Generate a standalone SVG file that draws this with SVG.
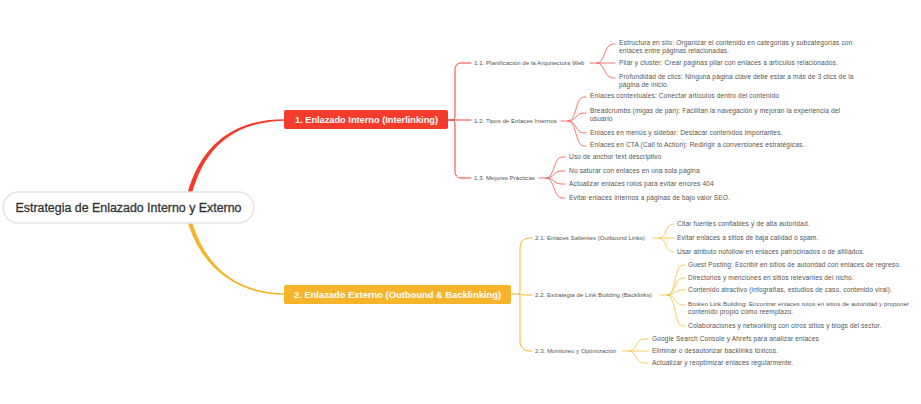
<svg xmlns="http://www.w3.org/2000/svg" width="921" height="404" viewBox="0 0 921 404">
<style>
.bg{fill:#ffffff}
.root{fill:#ffffff;stroke:#e4e4e4;stroke-width:1.5}
.rootT{font-family:"Liberation Sans",Arial,sans-serif;font-size:12.5px;fill:#333333;stroke:#333333;stroke-width:0.3;text-anchor:middle}
.n1{fill:#f43b2c}
.n2{fill:#f6b42b}
.nT{font-family:"Liberation Sans",Arial,sans-serif;font-size:9.5px;font-weight:bold;fill:#ffffff;text-anchor:middle}
.l2{font-family:"Liberation Sans",Arial,sans-serif;font-size:6.1px;letter-spacing:0.03px;fill:#555555}
.l3{font-family:"Liberation Sans",Arial,sans-serif;font-size:6.6px;letter-spacing:0.13px;fill:#555555}
.l3n{font-size:6.2px;letter-spacing:0.05px}
.cr{fill:none;stroke:#f43b2c;stroke-width:1;stroke-linecap:round}
.cy{fill:none;stroke:#f6b42b;stroke-width:1;stroke-linecap:round}
.cr2{fill:none;stroke:#f7675c;stroke-width:0.9;stroke-linecap:round}
.cy2{fill:none;stroke:#f8c451;stroke-width:0.9;stroke-linecap:round}
</style>
<rect class="bg" x="0" y="0" width="921" height="404"/>
<g id="connectors">
<path d="M187,195 C202,139 240,119 285,119.2 L285,120.8 C240,121.5 206,141 191.5,195 Z" fill="#f43b2c"/>
<path d="M187,220 C202,271 240,295 285,294.8 L285,293.2 C240,293 206,270 191.5,220 Z" fill="#f6b42b"/>
<!-- branch 1 -->
<path class="cr" d="M448,120 L471,120"/>
<path class="cr" d="M448,120 L452,120 C455,120 455,117 455,114 L455,70 C455,66 457,63 461,63 L471,63"/>
<path class="cr" d="M452,120 C455,120 455,123 455,126 L455,171 C455,175 457,178 461,178 L471,178"/>
<!-- 1.1 -->
<path class="cr2" d="M590,63 L597,63 C605,63 604,44 613,44 L615,44"/>
<path class="cr2" d="M597,63 L615,63"/>
<path class="cr2" d="M597,63 C605,63 604,78 613,78 L615,78"/>
<!-- 1.2 -->
<path class="cr2" d="M561,121 L568,121 C577,121 575,97 584,97 L586,97"/>
<path class="cr2" d="M568,121 C577,121 575,113 584,113 L586,113"/>
<path class="cr2" d="M568,121 C577,121 575,133 584,133 L586,133"/>
<path class="cr2" d="M568,121 C577,121 575,146 584,146 L586,146"/>
<!-- 1.3 -->
<path class="cr2" d="M539,178 L546,178 C555,178 553,157 562,157 L565,157"/>
<path class="cr2" d="M546,178 C555,178 553,171 562,171 L565,171"/>
<path class="cr2" d="M546,178 C555,178 553,184 562,184 L565,184"/>
<path class="cr2" d="M546,178 C555,178 553,198 562,198 L565,198"/>
<!-- branch 2 -->
<path class="cy" d="M511,294 L519,294 C520,294 520,292 520,290 L520,248 C520,242 524,238 530,238 L532,238"/>
<path class="cy" d="M519,294 C520,294 520,295 528,295 L532,295"/>
<path class="cy" d="M519,294 C520,294 520,296 520,298 L520,341 C520,347 524,351 530,351 L532,351"/>
<!-- 2.1 -->
<path class="cy2" d="M653,238 L659,238 C667,238 665,224 673,224 L674,224"/>
<path class="cy2" d="M659,238 L674,238"/>
<path class="cy2" d="M659,238 C667,238 665,252 673,252 L674,252"/>
<!-- 2.2 -->
<path class="cy2" d="M660,295 L667,295 C676,295 674,265 683,265 L685,265"/>
<path class="cy2" d="M667,295 C676,295 674,278 683,278 L685,278"/>
<path class="cy2" d="M667,295 C676,295 674,290 683,290 L685,290"/>
<path class="cy2" d="M667,295 C676,295 674,305 683,305 L685,305"/>
<path class="cy2" d="M667,295 C676,295 674,326 683,326 L685,326"/>
<!-- 2.3 -->
<path class="cy2" d="M622,351 L629,351 C637,351 635,339 644,339 L648,339"/>
<path class="cy2" d="M629,351 L648,351"/>
<path class="cy2" d="M629,351 C637,351 635,363 644,363 L648,363"/>
</g>
<g id="root">
<rect class="root" x="3" y="192" width="251" height="31" rx="15.5"/>
<text class="rootT" x="128.5" y="212" textLength="226" lengthAdjust="spacingAndGlyphs">Estrategia de Enlazado Interno y Externo</text>
</g>
<g id="n1">
<rect class="n1" x="284" y="110" width="164" height="19" rx="2"/>
<text class="nT" x="366.5" y="123.3" textLength="143" lengthAdjust="spacingAndGlyphs">1. Enlazado Interno (Interlinking)</text>
</g>
<g id="n2">
<rect class="n2" x="284" y="285" width="227" height="19" rx="2"/>
<text class="nT" x="397.5" y="298.3" textLength="207" lengthAdjust="spacingAndGlyphs">2. Enlazado Externo (Outbound &amp; Backlinking)</text>
</g>
<g id="n1-1"><text class="l2" x="474" y="65.2">1.1. Planificación de la Arquitectura Web</text></g>
<g id="n1-1-1"><text class="l3" x="619" y="45.2">Estructura en silo: Organizar el contenido en categorías y subcategorías con</text><text class="l3" x="619" y="53.2">enlaces entre páginas relacionadas.</text></g>
<g id="n1-1-2"><text class="l3" x="619" y="65.2">Pilar y cluster: Crear páginas pilar con enlaces a artículos relacionados.</text></g>
<g id="n1-1-3"><text class="l3" x="619" y="78.5">Profundidad de clics: Ninguna página clave debe estar a más de 3 clics de la</text><text class="l3" x="619" y="86.5">página de inicio.</text></g>
<g id="n1-2"><text class="l2" x="474" y="123.2">1.2. Tipos de Enlaces Internos</text></g>
<g id="n1-2-1"><text class="l3" x="590" y="98.3">Enlaces contextuales: Conectar artículos dentro del contenido</text></g>
<g id="n1-2-2"><text class="l3" x="590" y="113.3">Breadcrumbs (migas de pan): Facilitan la navegación y mejoran la experiencia del</text><text class="l3" x="590" y="121.3">usuario</text></g>
<g id="n1-2-3"><text class="l3" x="590" y="135.3">Enlaces en menús y sidebar: Destacar contenidos importantes.</text></g>
<g id="n1-2-4"><text class="l3" x="590" y="147.3">Enlaces en CTA (Call to Action): Redirigir a conversiones estratégicas.</text></g>
<g id="n1-3"><text class="l2" x="474" y="180.2">1.3. Mejores Prácticas</text></g>
<g id="n1-3-1"><text class="l3" x="569" y="159.3">Uso de anchor text descriptivo</text></g>
<g id="n1-3-2"><text class="l3" x="569" y="173.3">No saturar con enlaces en una sola página</text></g>
<g id="n1-3-3"><text class="l3" x="569" y="186.3">Actualizar enlaces rotos para evitar errores 404</text></g>
<g id="n1-3-4"><text class="l3" x="569" y="200.3">Evitar enlaces internos a páginas de bajo valor SEO.</text></g>
<g id="n2-1"><text class="l2" x="535" y="240.2">2.1. Enlaces Salientes (Outbound Links)</text></g>
<g id="n2-1-1"><text class="l3" x="677" y="226.3">Citar fuentes confiables y de alta autoridad.</text></g>
<g id="n2-1-2"><text class="l3" x="677" y="240.3">Evitar enlaces a sitios de baja calidad o spam.</text></g>
<g id="n2-1-3"><text class="l3" x="677" y="254.3">Usar atributo nofollow en enlaces patrocinados o de afiliados.</text></g>
<g id="n2-2"><text class="l2" x="535" y="297.2">2.2. Estrategia de Link Building (Backlinks)</text></g>
<g id="n2-2-1"><text class="l3" x="688" y="267.3">Guest Posting: Escribir en sitios de autoridad con enlaces de regreso.</text></g>
<g id="n2-2-2"><text class="l3" x="688" y="280.3">Directorios y menciones en sitios relevantes del nicho.</text></g>
<g id="n2-2-3"><text class="l3" x="688" y="292.3">Contenido atractivo (infografías, estudios de caso, contenido viral).</text></g>
<g id="n2-2-4"><text class="l3 l3n" x="688" y="306.3">Broken Link Building: Encontrar enlaces rotos en sitios de autoridad y proponer</text><text class="l3" x="688" y="314.3">contenido propio como reemplazo.</text></g>
<g id="n2-2-5"><text class="l3" x="688" y="328.3">Colaboraciones y networking con otros sitios y blogs del sector.</text></g>
<g id="n2-3"><text class="l2" x="535" y="353.2">2.3. Monitoreo y Optimización</text></g>
<g id="n2-3-1"><text class="l3" x="652" y="341.3">Google Search Console y Ahrefs para analizar enlaces</text></g>
<g id="n2-3-2"><text class="l3" x="652" y="353.3">Eliminar o desautorizar backlinks tóxicos.</text></g>
<g id="n2-3-3"><text class="l3" x="652" y="365.3">Actualizar y reoptimizar enlaces regularmente.</text></g>
</svg>
